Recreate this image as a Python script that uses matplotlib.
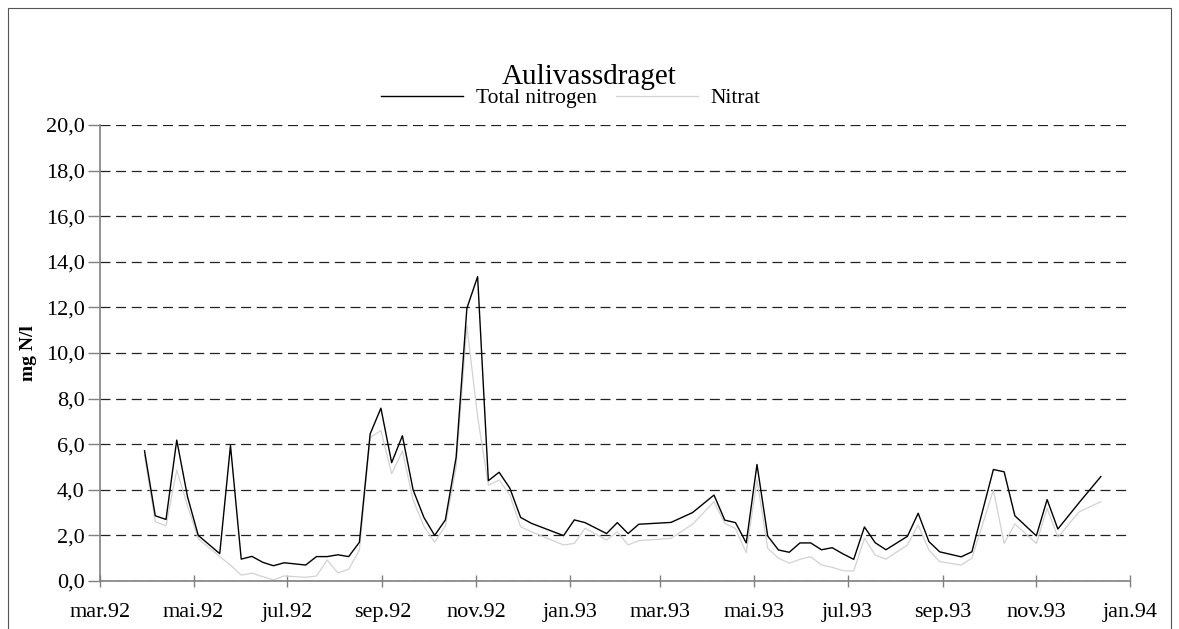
import matplotlib.pyplot as plt
import matplotlib.dates as mdates
import numpy as np
import pandas as pd
from matplotlib.patches import Rectangle
from matplotlib.ticker import FuncFormatter

# Prøvedatoer (ukentlige prøver, mandager)
datoer = [
    '1992-03-30', '1992-04-06', '1992-04-13', '1992-04-20', '1992-04-27',
    '1992-05-04', '1992-05-18', '1992-05-25', '1992-06-01', '1992-06-08',
    '1992-06-15', '1992-06-22', '1992-06-29', '1992-07-13', '1992-07-20',
    '1992-07-27', '1992-08-03', '1992-08-10', '1992-08-17', '1992-08-24',
    '1992-08-31', '1992-09-07', '1992-09-14', '1992-09-21', '1992-09-28',
    '1992-10-05', '1992-10-12', '1992-10-19', '1992-10-26', '1992-11-02',
    '1992-11-09', '1992-11-16', '1992-11-23', '1992-11-30', '1992-12-07',
    '1992-12-28', '1993-01-04', '1993-01-11', '1993-01-25', '1993-02-01',
    '1993-02-08', '1993-02-15', '1993-03-08', '1993-03-22', '1993-04-05',
    '1993-04-12', '1993-04-19', '1993-04-26', '1993-05-03', '1993-05-10',
    '1993-05-17', '1993-05-24', '1993-05-31', '1993-06-07', '1993-06-14',
    '1993-06-21', '1993-06-28', '1993-07-05', '1993-07-12', '1993-07-19',
    '1993-07-26', '1993-08-09', '1993-08-16', '1993-08-23', '1993-08-30',
    '1993-09-13', '1993-09-20', '1993-10-04', '1993-10-11', '1993-10-18',
    '1993-11-01', '1993-11-08', '1993-11-15', '1993-11-29', '1993-12-13',
]

# Total nitrogen (mg N/l)
total_n = [
    5.71, 2.86, 2.70, 6.18, 3.70,
    2.00, 1.20, 5.94, 0.96, 1.08,
    0.82, 0.67, 0.80, 0.70, 1.07,
    1.07, 1.15, 1.07, 1.70, 6.45,
    7.58, 5.19, 6.37, 3.99, 2.79,
    2.00, 2.68, 5.42, 11.96, 13.35,
    4.40, 4.77, 4.07, 2.79, 2.53,
    1.99, 2.68, 2.56, 2.08, 2.56,
    2.08, 2.49, 2.57, 3.00, 3.77,
    2.67, 2.56, 1.67, 5.11, 1.97,
    1.36, 1.26, 1.67, 1.67, 1.37,
    1.46, 1.19, 0.95, 2.37, 1.68,
    1.37, 1.96, 2.97, 1.73, 1.28,
    1.06, 1.28, 4.89, 4.79, 2.86,
    1.98, 3.57, 2.28, 3.45, 4.58,
]

# Nitrat (mg N/l)
nitrat = [
    5.50, 2.60, 2.42, 4.87, 3.30,
    1.85, 1.07, 0.70, 0.26, 0.34,
    0.19, 0.05, 0.22, 0.16, 0.22,
    0.92, 0.35, 0.52, 1.36, 6.30,
    6.60, 4.70, 5.70, 3.55, 2.40,
    1.70, 2.42, 5.00, 11.20, 7.20,
    4.20, 4.43, 3.77, 2.38, 2.16,
    1.58, 1.65, 2.31, 1.80, 2.16,
    1.58, 1.77, 1.87, 2.49, 3.48,
    2.53, 2.30, 1.24, 4.43, 1.43,
    1.00, 0.78, 0.95, 1.07, 0.70,
    0.60, 0.45, 0.44, 1.87, 1.14,
    0.96, 1.58, 2.46, 1.36, 0.85,
    0.70, 1.00, 3.99, 1.65, 2.50,
    1.65, 3.19, 1.92, 3.04, 3.48,
]

maaneder = ['jan', 'feb', 'mar', 'apr', 'mai', 'jun',
            'jul', 'aug', 'sep', 'okt', 'nov', 'des']

x = pd.to_datetime(datoer)

plt.rcParams['font.family'] = ['Liberation Serif', 'DejaVu Serif']

fig = plt.figure(figsize=(11.79, 6.29), dpi=100)
ax = fig.add_axes([100 / 1179, 48 / 629, 1030 / 1179, 456 / 629])

# ramme rundt hele figuren
fig.patches.append(Rectangle((8 / 1179, -0.02), 1163 / 1179, 1.02 - 8 / 629,
                             transform=fig.transFigure, fill=False,
                             edgecolor='#555555', linewidth=0.8))

l_nitrat, = ax.plot(x, nitrat, color='#d2d2d2', linewidth=0.9, label='Nitrat')
l_total, = ax.plot(x, total_n, color='black', linewidth=1.0, label='Total nitrogen')

# akser
ax.set_xlim(pd.Timestamp('1992-03-01'), pd.Timestamp('1994-01-01'))
ax.set_ylim(0, 20)
ax.set_yticks(np.arange(0, 21, 2))
ax.yaxis.set_major_formatter(FuncFormatter(lambda v, p: f'{v:.1f}'.replace('.', ',')))

ax.xaxis.set_major_locator(mdates.MonthLocator(bymonth=[1, 3, 5, 7, 9, 11]))


def maaned_etikett(v, p):
    d = mdates.num2date(v)
    return f"{maaneder[d.month - 1]}.{d.strftime('%y')}"


ax.xaxis.set_major_formatter(FuncFormatter(maaned_etikett))

ax.grid(axis='y', color='#222222', linestyle=(0, (8, 4.5)), linewidth=0.9)
ax.set_axisbelow(True)

for side in ['top', 'right']:
    ax.spines[side].set_visible(False)
for side in ['left', 'bottom']:
    ax.spines[side].set_color('#808080')
    ax.spines[side].set_linewidth(1.2)

ax.tick_params(axis='x', direction='inout', length=9, width=1, color='#808080',
               labelsize=16, pad=11)
ax.tick_params(axis='y', direction='out', length=9, width=1, color='#808080',
               labelsize=16, pad=2)

ax.set_ylabel('mg N/l', fontsize=14, fontweight='bold')
ax.yaxis.set_label_coords(-63 / 1030, 0.5)

fig.text(0.5, 1 - 77 / 629, 'Aulivassdraget', fontsize=21, ha='center', va='center')

fig.legend([l_total, l_nitrat], ['Total nitrogen', 'Nitrat'], ncol=2,
           loc='center', bbox_to_anchor=(571 / 1179, 1 - 98 / 629),
           frameon=False, fontsize=15.5, handlelength=3.8, handletextpad=0.6,
           columnspacing=0.9)

fig.savefig('out.png', dpi=100)
